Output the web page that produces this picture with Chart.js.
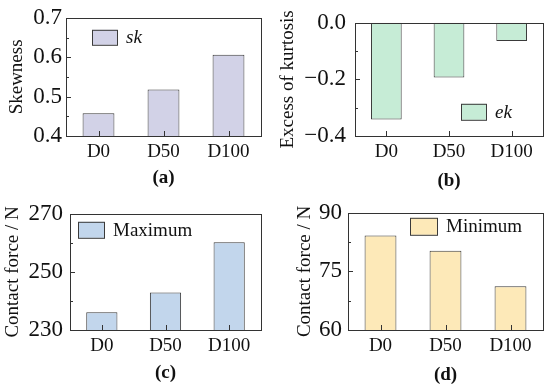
<!DOCTYPE html>
<html>
<head>
<meta charset="utf-8">
<script src="https://cdn.jsdelivr.net/npm/chart.js@4"></script>
<style>
  body { margin: 0; background: #fff; }
  .wrap { position: relative; width: 550px; height: 387px; }
  canvas { position: absolute; }
</style>
</head>
<body>
<div class="wrap">
  <canvas id="ca" width="275" height="193" style="left:0;top:0"></canvas>
  <canvas id="cb" width="275" height="193" style="left:275px;top:0"></canvas>
  <canvas id="cc" width="275" height="194" style="left:0;top:193px"></canvas>
  <canvas id="cd" width="275" height="194" style="left:275px;top:193px"></canvas>
</div>
<script>
const categories = ['D0', 'D50', 'D100'];

const skewness = [0.458, 0.518, 0.606];
const kurtosis = [-0.342, -0.193, -0.064];
const maxForce = [236.1, 242.9, 260.2];
const minForce = [84.2, 80.3, 71.2];

const ticksA = [0.4, 0.5, 0.6, 0.7];
const ticksB = [-0.4, -0.2, 0.0];
const ticksC = [230, 250, 270];
const ticksD = [60, 75, 90];

const FONT = "'Liberation Serif', 'Times New Roman', serif";

// frame, inward ticks and the little legend box
const framePlugin = {
  id: 'frame',
  afterDraw(chart, args, opts) {
    const c = chart.ctx;
    const a = chart.chartArea;
    const x = chart.scales.x, y = chart.scales.y;
    c.save();
    c.strokeStyle = '#333';
    c.lineWidth = 1;
    c.strokeRect(Math.round(a.left) + 0.5, Math.round(a.top) + 0.5,
      Math.round(a.right - a.left), Math.round(a.bottom - a.top));
    c.beginPath();
    categories.forEach((_, i) => {
      const px = Math.round(x.getPixelForValue(i)) + 0.5;
      c.moveTo(px, a.bottom); c.lineTo(px, a.bottom - 5);
    });
    const t = opts.ticks;
    const step = t[1] - t[0];
    for (let i = 0; i < t.length; i++) {
      const py = Math.round(y.getPixelForValue(t[i])) + 0.5;
      c.moveTo(a.left, py); c.lineTo(a.left + 5, py);
      if (i < t.length - 1) {
        const pm = Math.round(y.getPixelForValue(t[i] + step / 2)) + 0.5;
        c.moveTo(a.left, pm); c.lineTo(a.left + 3, pm);
      }
    }
    c.stroke();
    // legend
    const ds = chart.data.datasets[0];
    const L = opts.legend;
    const bx = a.left + L.x, by = a.top + L.y;
    c.fillStyle = ds.backgroundColor;
    c.fillRect(bx, by, L.w, L.h);
    c.strokeStyle = '#3a3a3a';
    c.strokeRect(bx + 0.5, by + 0.5, L.w, L.h);
    c.fillStyle = '#111';
    c.font = (L.italic ? 'italic ' : '') + '19px ' + FONT;
    c.textBaseline = 'middle';
    c.textAlign = 'left';
    c.fillText(ds.label, bx + L.w + 9, by + L.h / 2 + 1);
    c.restore();
  }
};

function makeChart(id, cfg) {
  const step = cfg.ticks[1] - cfg.ticks[0];
  return new Chart(document.getElementById(id), {
    type: 'bar',
    data: {
      labels: categories,
      datasets: [{
        label: cfg.label,
        data: cfg.data,
        backgroundColor: cfg.color,
        borderColor: '#3a3a3a',
        borderWidth: 1,
        borderSkipped: false,
        barPercentage: 0.49,
        categoryPercentage: 1
      }]
    },
    options: {
      responsive: false,
      animation: false,
      events: [],
      layout: { padding: { top: cfg.top, right: cfg.right, left: 0, bottom: 0 } },
      scales: {
        x: {
          grid: { display: false, drawTicks: false },
          border: { display: false },
          ticks: { padding: 5, color: '#111', font: { family: FONT, size: 19 } },
          title: {
            display: true, text: cfg.panel, color: '#111',
            font: { family: FONT, size: 19, weight: 'bold' },
            padding: { top: 0, bottom: cfg.panelPad }
          },
          afterFit(s) { s.height = 57; }
        },
        y: {
          min: cfg.ticks[0],
          max: cfg.ticks[cfg.ticks.length - 1],
          grid: { display: false, drawTicks: false },
          border: { display: false },
          ticks: {
            stepSize: step,
            padding: cfg.tickPad,
            color: '#111',
            font: { family: FONT, size: 23 },
            callback: v => cfg.fmt(v)
          },
          title: {
            display: true, text: cfg.yTitle, color: '#111',
            font: { family: FONT, size: 19 },
            padding: { top: cfg.titlePad, bottom: 0 }
          },
          afterFit(s) { s.width = cfg.yWidth; }
        }
      },
      plugins: {
        legend: { display: false },
        tooltip: { enabled: false },
        frame: { ticks: cfg.ticks, legend: cfg.legend }
      }
    },
    plugins: [framePlugin]
  });
}

const fmt1 = v => v.toFixed(1).replace('-', '\u2212');
const fmt0 = v => String(Math.round(v));

makeChart('ca', {
  label: 'sk', data: skewness, color: '#d2d2e7', ticks: ticksA, fmt: fmt1,
  yTitle: 'Skewness', panel: '(a)', top: 17, right: 14, yWidth: 66,
  tickPad: 4, titlePad: 6, panelPad: 4,
  legend: { x: 26, y: 12, w: 25, h: 15, italic: true }
});
makeChart('cb', {
  label: 'ek', data: kurtosis, color: '#c6ecd6', ticks: ticksB, fmt: fmt1,
  yTitle: 'Excess of kurtosis', panel: '(b)', top: 18, right: 7, yWidth: 80,
  tickPad: 9, titlePad: 2, panelPad: 1,
  legend: { x: 106, y: 81, w: 25, h: 16, italic: true }
});
makeChart('cc', {
  label: 'Maximum', data: maxForce, color: '#c2d6ec', ticks: ticksC, fmt: fmt0,
  yTitle: 'Contact force / N', panel: '(c)', top: 19, right: 14, yWidth: 70,
  tickPad: 7, titlePad: 2, panelPad: 3,
  legend: { x: 8, y: 8, w: 26, h: 16, italic: false }
});
makeChart('cd', {
  label: 'Minimum', data: minForce, color: '#fde9b8', ticks: ticksD, fmt: fmt0,
  yTitle: 'Contact force / N', panel: '(d)', top: 19, right: 7, yWidth: 73,
  tickPad: 6, titlePad: 19, panelPad: 1,
  legend: { x: 62, y: 5, w: 27, h: 17, italic: false }
});
</script>
</body>
</html>
